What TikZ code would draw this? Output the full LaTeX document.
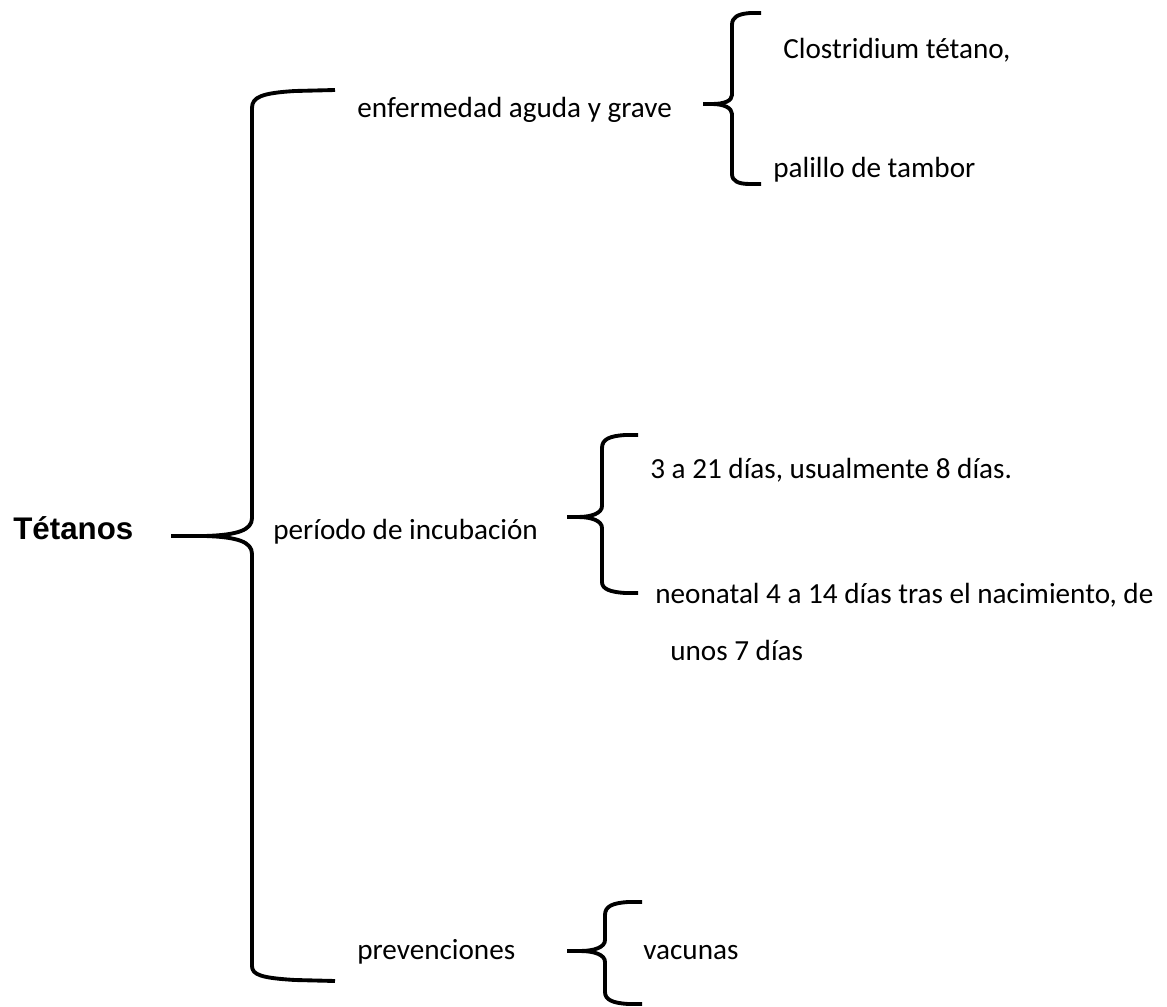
\documentclass[tikz,border=0pt]{standalone}
\usepackage{fontspec}
\setmainfont{Carlito}
\newfontfamily\arialfont{Liberation Sans}

\begin{document}
\begin{tikzpicture}[x=0.02cm, y=-0.02cm,
  llave/.style={line width=2.2pt, line join=round},
  texto/.style={anchor=west, inner sep=0pt, font=\fontsize{16.6}{20}\selectfont}]
\useasboundingbox (0,0) rectangle (1167,1007);

% Main topic
\node[anchor=west, inner sep=0pt, font=\arialfont\bfseries\fontsize{17.8}{21}\selectfont] (tetanos) at (13,528) {Tétanos};

% Big brace
\draw[llave] (335,90) -- (295,91) .. controls (262,93) and (252,97) .. (252,108)
  -- (252,518) .. controls (252,530) and (238,535) .. (205,536) -- (171,536);
\draw[llave] (205,536) .. controls (238,537) and (252,542) .. (252,554)
  -- (252,966) .. controls (252,975) and (262,978) .. (295,980) -- (335,981);

% Second level
\node[texto] (enfermedad) at (357,110) {enfermedad aguda y grave};
\node[texto] (periodo) at (273,532) {período de incubación};
\node[texto] (prevenciones) at (357,952) {prevenciones};

% Brace 1: enfermedad
\draw[llave] (761,13) -- (750,13) .. controls (738,14) and (732,17) .. (732,25)
  -- (732,95) .. controls (732,101) and (724,104) .. (712,104) -- (703,104);
\draw[llave] (712,104) .. controls (724,104) and (732,108) .. (732,114)
  -- (732,174) .. controls (732,181) and (738,184) .. (750,184) -- (761,184);
\node[texto] (clostridium) at (783,50) {Clostridium tétano,};
\node[texto] (palillo) at (773,170) {palillo de tambor};

% Brace 2: incubacion
\draw[llave] (638,435) -- (625,435) .. controls (610,436) and (602,439) .. (602,448)
  -- (602,506) .. controls (602,513) and (592,517) .. (578,517) -- (567,517);
\draw[llave] (578,517) .. controls (592,517) and (602,521) .. (602,528)
  -- (602,582) .. controls (602,589) and (610,592) .. (625,593) -- (638,593);
\node[texto] (dias) at (650,470) {3 a 21 días, usualmente 8 días.};
\node[texto] (neonatal) at (655,595) {neonatal 4 a 14 días tras el nacimiento, de};
\node[texto] (unos) at (670,650) {unos 7 días};

% Brace 3: prevenciones
\draw[llave] (642,902) -- (628,902) .. controls (613,903) and (605,906) .. (605,915)
  -- (605,940) .. controls (605,947) and (595,951) .. (580,951) -- (567,951);
\draw[llave] (580,951) .. controls (595,951) and (605,955) .. (605,962)
  -- (605,992) .. controls (605,1000) and (613,1003) .. (628,1004) -- (642,1004);
\node[texto] (vacunas) at (643,953) {vacunas};
\end{tikzpicture}
\end{document}
